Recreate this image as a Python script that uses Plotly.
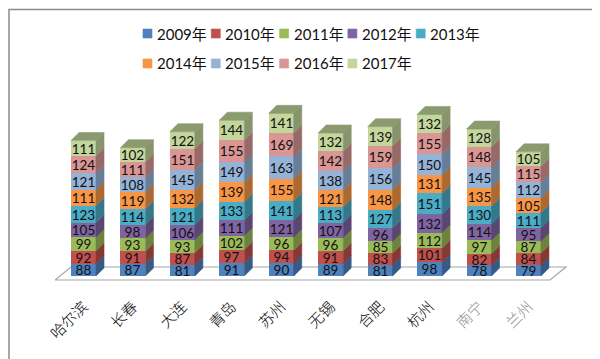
import plotly.graph_objects as go

# ---------------- data ----------------
cities = ["哈尔滨", "长春", "大连", "青岛", "苏州", "无锡", "合肥", "杭州", "南宁", "兰州"]
years = ["2009年", "2010年", "2011年", "2012年", "2013年", "2014年", "2015年", "2016年", "2017年"]
v2009 = [88, 87, 81, 91, 90, 89, 81, 98, 78, 79]
v2010 = [92, 91, 87, 97, 94, 91, 83, 101, 82, 84]
v2011 = [99, 93, 93, 102, 96, 96, 85, 112, 97, 87]
v2012 = [105, 98, 106, 111, 121, 107, 96, 132, 114, 95]
v2013 = [123, 114, 121, 133, 141, 113, 127, 151, 130, 111]
v2014 = [111, 119, 132, 139, 155, 121, 148, 131, 135, 105]
v2015 = [121, 108, 145, 149, 163, 138, 156, 150, 145, 112]
v2016 = [124, 111, 151, 155, 169, 142, 159, 155, 148, 115]
v2017 = [111, 102, 122, 144, 141, 132, 139, 132, 128, 105]
series = [v2009, v2010, v2011, v2012, v2013, v2014, v2015, v2016, v2017]
colors = ["#4F81BD", "#C0504D", "#9BBB59", "#8064A2", "#4BACC6",
          "#F79646", "#95B3D7", "#D99694", "#C3D69B"]

# ---------------- layout geometry (pixels) ----------------
W, H = 600, 359
L, RR, T, B = 47, 560, 80, 282          # plot area in pixels
C0, STEP = 75.5, 49.44                  # first category centre, px per category
Y0PX, K = 268, 0.139                    # pixel of value 0, px per unit
FACE_W = 25                             # front face width px
DEPTH = 8                               # 3-D depth px

xmin, xmax = -(C0 - L) / STEP, (RR - C0) / STEP
ymin, ymax = -(B - Y0PX) / K, (Y0PX - T) / K
dxd, dyd = DEPTH / STEP, DEPTH / K
half = FACE_W / 2 / STEP


def xp(px):
    return (px - L) / (RR - L)


def yp(py):
    return (B - py) / (B - T)


def darker(hexc, f):
    r, g, b = int(hexc[1:3], 16), int(hexc[3:5], 16), int(hexc[5:7], 16)
    return "rgb(%d,%d,%d)" % (r * f, g * f, b * f)


xs = list(range(len(cities)))
font_lat = "Lato, 'Noto Sans CJK SC', sans-serif"

fig = go.Figure()

# front faces: stacked bars
for name, vals, col in zip(years, series, colors):
    fig.add_trace(go.Bar(
        x=xs, y=vals, name=name, width=2 * half,
        marker=dict(color=col, line=dict(width=0)),
        text=vals, textposition="inside", insidetextanchor="middle",
        textangle=0, constraintext="none",
        textfont=dict(size=13.5, color="#111111", family=font_lat),
        showlegend=False, hoverinfo="skip"))

# side faces built from the cumulative stacks
base = [0] * len(cities)
for si, (vals, col) in enumerate(zip(series, colors)):
    sx, sy = [], []
    for i, v in enumerate(vals):
        xr = xs[i] + half
        y0, y1 = base[i], base[i] + v
        sx += [xr, xr + dxd, xr + dxd, xr, xr, None]
        sy += [y0, y0 + dyd, y1 + dyd, y1, y0, None]
    dc = darker(col, 0.7)
    fig.add_trace(go.Scatter(x=sx, y=sy, mode="lines", fill="toself",
                             fillcolor=dc, line=dict(width=0.6, color=dc),
                             showlegend=False, hoverinfo="skip"))
    base = [b_ + v for b_, v in zip(base, vals)]

# top faces
tx, ty = [], []
for i, top in enumerate(base):
    xl, xr = xs[i] - half, xs[i] + half
    tx += [xl, xl + dxd, xr + dxd, xr, xl, None]
    ty += [top, top + dyd, top + dyd, top, top, None]
tc = darker(colors[-1], 0.72)
fig.add_trace(go.Scatter(x=tx, y=ty, mode="lines", fill="toself",
                         fillcolor=tc, line=dict(width=0.6, color=tc),
                         showlegend=False, hoverinfo="skip"))

shapes = []
# floor
fy_front, fy_back = -(272 - Y0PX) / K, (Y0PX - 259) / K
fxl, fxr = (47 - C0) / STEP, (542 - C0) / STEP
fxo = 16 / STEP
shapes.append(dict(
    type="path", xref="x", yref="y", layer="below",
    path="M %f,%f L %f,%f L %f,%f L %f,%f Z" % (
        fxl, fy_front, fxr, fy_front, fxr + fxo, fy_back, fxl + fxo, fy_back),
    line=dict(color="#A6A6A6", width=1.2), fillcolor="rgba(255,255,255,0)"))
# chart border
shapes.append(dict(type="rect", xref="paper", yref="paper",
                   x0=xp(1), x1=xp(598), y0=yp(357), y1=yp(1.5),
                   line=dict(color="#8C8C8C", width=1.5)))

# legend (manual, two rows)
annotations = []
for i, (name, col) in enumerate(zip(years, colors)):
    row, colx = divmod(i, 5)
    mx = 135 + 68.3 * colx
    my = 21 + 30 * row
    shapes.append(dict(type="rect", xref="paper", yref="paper",
                       x0=xp(mx), x1=xp(mx + 9), y0=yp(my + 9), y1=yp(my),
                       fillcolor=col, line=dict(width=0.6, color=darker(col, 1.0))))
    annotations.append(dict(xref="paper", yref="paper", x=xp(mx + 12), y=yp(my + 4.5),
                            text=name, showarrow=False, xanchor="left", yanchor="middle",
                            font=dict(size=15, color="#111111", family=font_lat)))

ticktext = [c if c not in ("南宁", "兰州") else '<span style="color:#8a8a8a">%s</span>' % c
            for c in cities]

fig.update_layout(
    width=W, height=H, barmode="stack", bargap=0,
    margin=dict(l=L, r=W - RR, t=T, b=H - B, pad=0),
    paper_bgcolor="white", plot_bgcolor="white",
    shapes=shapes, annotations=annotations, showlegend=False,
    xaxis=dict(range=[xmin, xmax], tickvals=xs, ticktext=ticktext, tickangle=-45,
               showgrid=False, zeroline=False, showline=False, ticks="",
               ticklabelstandoff=4,
               tickfont=dict(size=15, color="#000000", family="'Noto Sans CJK SC'",
                             weight=300),
               fixedrange=True),
    yaxis=dict(range=[ymin, ymax], visible=False, showgrid=False, zeroline=False,
               fixedrange=True),
)

fig.write_html("out.html")
